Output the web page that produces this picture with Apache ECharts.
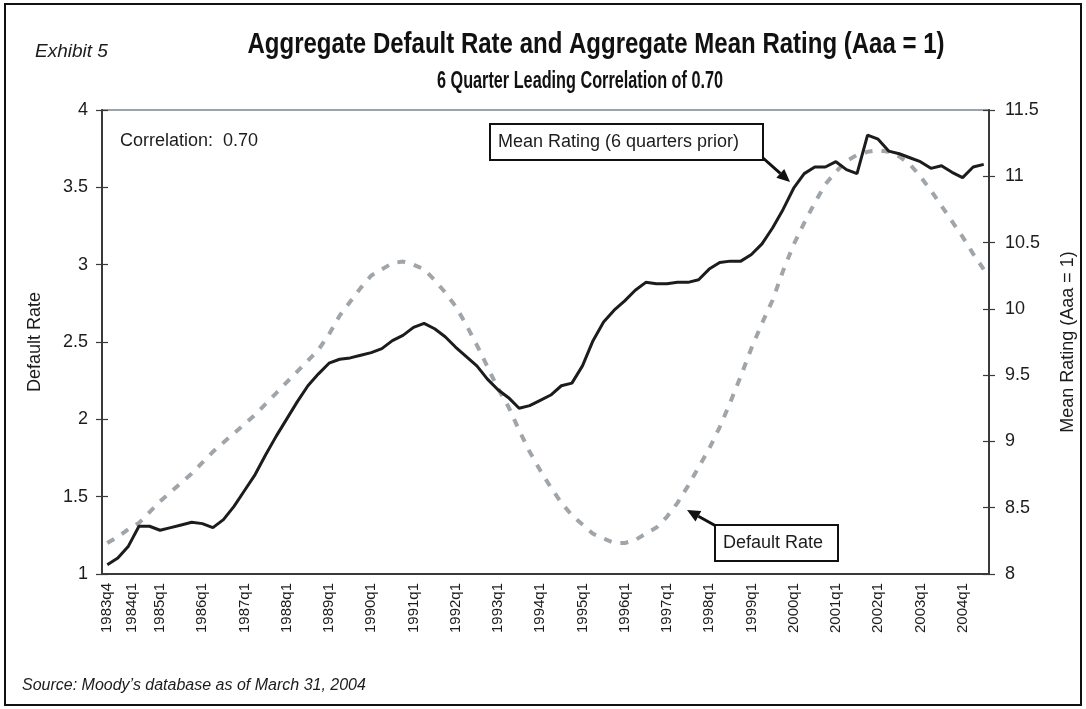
<!DOCTYPE html>
<html>
<head>
<meta charset="utf-8">
<script src="https://cdn.jsdelivr.net/npm/echarts@6/dist/echarts.min.js"></script>
<style>
html, body { margin: 0; padding: 0; background: #fff; }
#chart { width: 1086px; height: 709px; }
</style>
</head>
<body>
<div id="chart"></div>
<script>
var quarters = [
  '1983q4',
  '1984q1','1984q2','1984q3','1984q4','1985q1','1985q2','1985q3','1985q4',
  '1986q1','1986q2','1986q3','1986q4','1987q1','1987q2','1987q3','1987q4',
  '1988q1','1988q2','1988q3','1988q4','1989q1','1989q2','1989q3','1989q4',
  '1990q1','1990q2','1990q3','1990q4','1991q1','1991q2','1991q3','1991q4',
  '1992q1','1992q2','1992q3','1992q4','1993q1','1993q2','1993q3','1993q4',
  '1994q1','1994q2','1994q3','1994q4','1995q1','1995q2','1995q3','1995q4',
  '1996q1','1996q2','1996q3','1996q4','1997q1','1997q2','1997q3','1997q4',
  '1998q1','1998q2','1998q3','1998q4','1999q1','1999q2','1999q3','1999q4',
  '2000q1','2000q2','2000q3','2000q4','2001q1','2001q2','2001q3','2001q4',
  '2002q1','2002q2','2002q3','2002q4','2003q1','2003q2','2003q3','2003q4',
  '2004q1','2004q2','2004q3'
];

// default rate (left axis), grey dashed
var defaultRate = [
  1.20,1.24,1.29,1.33,1.40,1.47,1.53,1.59,1.65,1.72,
  1.79,1.85,1.91,1.97,2.03,2.10,2.17,2.24,2.31,2.38,
  2.45,2.55,2.67,2.76,2.85,2.93,2.97,3.01,3.02,3.00,
  2.97,2.90,2.82,2.73,2.61,2.48,2.34,2.20,2.08,1.93,
  1.79,1.67,1.56,1.46,1.38,1.32,1.26,1.23,1.20,1.20,
  1.22,1.26,1.30,1.37,1.46,1.57,1.69,1.81,1.95,2.11,
  2.28,2.46,2.62,2.77,2.96,3.13,3.27,3.40,3.52,3.60,
  3.67,3.71,3.73,3.74,3.73,3.70,3.65,3.57,3.48,3.38,
  3.28,3.18,3.07,2.97
];

// mean rating 6 quarters prior (right axis), black
var meanRating = [
  8.07,8.12,8.21,8.36,8.36,8.33,8.35,8.37,8.39,8.38,
  8.35,8.41,8.51,8.63,8.75,8.90,9.04,9.17,9.30,9.42,
  9.51,9.59,9.62,9.63,9.65,9.67,9.70,9.76,9.80,9.86,
  9.89,9.85,9.79,9.71,9.64,9.57,9.47,9.39,9.33,9.25,
  9.27,9.31,9.35,9.42,9.44,9.57,9.76,9.90,9.99,10.06,
  10.14,10.20,10.19,10.19,10.20,10.20,10.22,10.30,10.35,10.36,
  10.36,10.41,10.49,10.61,10.75,10.91,11.02,11.07,11.07,11.11,
  11.05,11.02,11.31,11.28,11.19,11.17,11.14,11.11,11.06,11.08,
  11.03,10.99,11.07,11.09
];

var ink = '#1c1c1c';
var axisColor = '#3a3a3a';
var sans = '"Liberation Sans", Arial, sans-serif';

function showLabel(idx, val) {
  return val === '1983q4' || val.slice(4) === 'q1';
}

// squeeze a bold title to the width it has in the picture (condensed face)
var measureCtx = document.createElement('canvas').getContext('2d');
function squeeze(text, font, targetWidth) {
  measureCtx.font = font;
  return Math.min(1, targetWidth / measureCtx.measureText(text).width);
}

function arrowHead(tip, from, len, half) {
  var dx = tip[0] - from[0], dy = tip[1] - from[1];
  var d = Math.sqrt(dx * dx + dy * dy);
  var ux = dx / d, uy = dy / d;
  var bx = tip[0] - ux * len, by = tip[1] - uy * len;
  return {
    head: [tip, [bx - uy * half, by + ux * half], [bx + uy * half, by - ux * half]],
    base: [bx, by]
  };
}

var titleText = 'Aggregate Default Rate and Aggregate Mean Rating (Aaa = 1)';
var subText = '6 Quarter Leading Correlation of 0.70';
var titleFont = 'bold 29px "Liberation Sans"';
var subFont = 'bold 23px "Liberation Sans"';
var titleScale = squeeze(titleText, titleFont, 697);
var subScale = squeeze(subText, subFont, 286);

var arrow1 = arrowHead([790, 182], [763, 158], 13, 6);
var arrow2 = arrowHead([687, 510], [716, 526], 13, 6);

var chart = echarts.init(document.getElementById('chart'));

chart.setOption({
  animation: false,
  backgroundColor: '#fff',
  grid: {
    left: 102, right: 97, top: 110, bottom: 135,
    show: true, borderColor: '#9aa3ab', borderWidth: 2
  },
  xAxis: [
    {
      type: 'category',
      data: quarters,
      boundaryGap: true,
      axisLine: { lineStyle: { color: axisColor, width: 2 } },
      axisTick: { interval: 0, length: 6, lineStyle: { color: axisColor, width: 1.2 } },
      axisLabel: {
        interval: showLabel,
        rotate: 90,
        margin: 9,
        fontSize: 15,
        fontFamily: sans,
        color: ink,
        formatter: function (v) {
          return v === '1984q1' ? '{s|' + v + '}' : v;
        },
        rich: {
          s: { fontSize: 15, fontFamily: sans, color: ink, padding: [28, 0, 0, 0] }
        }
      },
      splitLine: { show: false }
    },
    {
      type: 'category',
      data: quarters,
      position: 'bottom',
      boundaryGap: true,
      axisLine: { show: false },
      axisTick: { interval: 0, inside: true, length: 6, lineStyle: { color: axisColor, width: 1.2 } },
      axisLabel: { show: false },
      splitLine: { show: false }
    }
  ],
  yAxis: [
    {
      type: 'value',
      position: 'left',
      min: 1, max: 4, interval: 0.5,
      name: 'Default Rate',
      nameLocation: 'middle',
      nameRotate: 90,
      nameGap: 58,
      nameTextStyle: { fontSize: 18, fontFamily: sans, color: ink },
      axisLine: { show: true, lineStyle: { color: axisColor, width: 2 } },
      axisTick: { show: true, length: 6, lineStyle: { color: axisColor, width: 1.2 } },
      axisLabel: { margin: 14, fontSize: 18, fontFamily: sans, color: ink },
      splitLine: { show: false }
    },
    {
      type: 'value',
      position: 'left',
      min: 1, max: 4, interval: 0.5,
      axisLine: { show: false },
      axisTick: { show: true, inside: true, length: 6, lineStyle: { color: axisColor, width: 1.2 } },
      axisLabel: { show: false },
      splitLine: { show: false }
    },
    {
      type: 'value',
      position: 'right',
      min: 8, max: 11.5, interval: 0.5,
      name: 'Mean Rating (Aaa = 1)',
      nameLocation: 'middle',
      nameRotate: 90,
      nameGap: 70,
      nameTextStyle: { fontSize: 18, fontFamily: sans, color: ink },
      axisLine: { show: true, lineStyle: { color: axisColor, width: 2 } },
      axisTick: { show: true, length: 6, lineStyle: { color: axisColor, width: 1.2 } },
      axisLabel: { margin: 16, fontSize: 18, fontFamily: sans, color: ink },
      splitLine: { show: false }
    },
    {
      type: 'value',
      position: 'right',
      min: 8, max: 11.5, interval: 0.5,
      axisLine: { show: false },
      axisTick: { show: true, inside: true, length: 6, lineStyle: { color: axisColor, width: 1.2 } },
      axisLabel: { show: false },
      splitLine: { show: false }
    }
  ],
  series: [
    {
      name: 'Default Rate',
      type: 'line',
      xAxisIndex: 0,
      yAxisIndex: 0,
      data: defaultRate,
      symbol: 'none',
      z: 2,
      lineStyle: { color: '#a0a5aa', width: 4, type: [8, 9], cap: 'butt' }
    },
    {
      name: 'Mean Rating (6 quarters prior)',
      type: 'line',
      xAxisIndex: 0,
      yAxisIndex: 2,
      data: meanRating,
      symbol: 'none',
      z: 3,
      lineStyle: { color: ink, width: 3 }
    }
  ],
  graphic: [
    {
      type: 'rect', shape: { x: 5, y: 4, width: 1076, height: 701 },
      style: { fill: 'none', stroke: '#111', lineWidth: 2 }, silent: true
    },
    {
      type: 'text', x: 35, y: 52,
      style: { text: 'Exhibit 5', fontSize: 19, fontStyle: 'italic', fontFamily: sans, fill: ink, verticalAlign: 'middle' }
    },
    {
      type: 'text', x: 596, y: 45, scaleX: titleScale,
      style: {
        text: titleText, font: titleFont, fill: '#111',
        align: 'center', verticalAlign: 'middle'
      }
    },
    {
      type: 'text', x: 580, y: 82, scaleX: subScale,
      style: {
        text: subText, font: subFont, fill: '#111',
        align: 'center', verticalAlign: 'middle'
      }
    },
    {
      type: 'text', x: 120, y: 141,
      style: { text: 'Correlation:  0.70', fontSize: 18, fontFamily: sans, fill: ink, verticalAlign: 'middle' }
    },
    {
      type: 'rect', shape: { x: 490, y: 124, width: 273, height: 36 },
      style: { fill: '#fff', stroke: '#111', lineWidth: 2 }, z: 10
    },
    {
      type: 'text', x: 498, y: 142, z: 11,
      style: { text: 'Mean Rating (6 quarters prior)', fontSize: 18, fontFamily: sans, fill: ink, verticalAlign: 'middle' }
    },
    {
      type: 'polyline', z: 10,
      shape: { points: [[763, 158], arrow1.base] },
      style: { stroke: '#111', lineWidth: 3, fill: 'none' }
    },
    {
      type: 'polygon', z: 10,
      shape: { points: arrow1.head },
      style: { fill: '#111' }
    },
    {
      type: 'rect', shape: { x: 715, y: 525, width: 123, height: 36 },
      style: { fill: '#fff', stroke: '#111', lineWidth: 2 }, z: 10
    },
    {
      type: 'text', x: 723, y: 543, z: 11,
      style: { text: 'Default Rate', fontSize: 18, fontFamily: sans, fill: ink, verticalAlign: 'middle' }
    },
    {
      type: 'polyline', z: 10,
      shape: { points: [[716, 526], arrow2.base] },
      style: { stroke: '#111', lineWidth: 3, fill: 'none' }
    },
    {
      type: 'polygon', z: 10,
      shape: { points: arrow2.head },
      style: { fill: '#111' }
    },
    {
      type: 'text', x: 22, y: 686,
      style: { text: 'Source: Moody\u2019s database as of March 31, 2004', fontSize: 16, fontStyle: 'italic', fontFamily: sans, fill: ink, verticalAlign: 'middle' }
    }
  ]
});

window.addEventListener('resize', function () { chart.resize(); });
</script>
</body>
</html>
